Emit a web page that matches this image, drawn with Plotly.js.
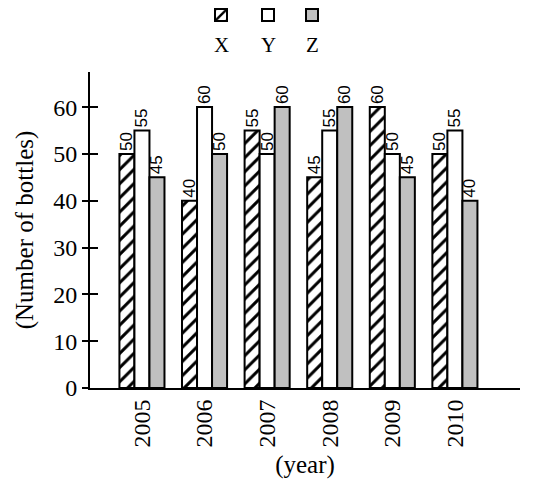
<!DOCTYPE html>
<html>
<head>
<meta charset="utf-8">
<script src="https://cdn.plot.ly/plotly-3.0.1.min.js"></script>
<style>html,body{margin:0;padding:0;background:#fff;}#chart{width:539px;height:484px;}</style>
</head>
<body>
<div id="chart"></div>
<script>
const years = [2005, 2006, 2007, 2008, 2009, 2010];
const seriesNames = ['X', 'Y', 'Z'];
const valuesX = [50, 40, 55, 45, 60, 50];
const valuesY = [55, 60, 50, 55, 50, 55];
const valuesZ = [45, 50, 60, 60, 45, 40];
const yTicks = [0, 10, 20, 30, 40, 50, 60];

const serif = 'Liberation Serif, Times New Roman, serif';
const sans = 'Liberation Sans, Arial, sans-serif';
const legendIds = ['legend', 'legend2', 'legend3'];

function barTrace(i, vals, marker) {
  return {
    type: 'bar', name: seriesNames[i], legend: legendIds[i], x: years, y: vals,
    text: vals.map(String), textposition: 'outside', textangle: -90,
    textfont: {family: sans, size: 17, color: '#000'},
    cliponaxis: false, constraintext: 'none',
    marker: marker, hoverinfo: 'x+y+name'
  };
}

const traces = [
  barTrace(0, valuesX, {color: '#fff', line: {color: '#000', width: 2},
    pattern: {shape: '/', fgcolor: '#000', bgcolor: '#fff', size: 10, solidity: 0.3, fillmode: 'replace'}}),
  barTrace(1, valuesY, {color: '#fff', line: {color: '#000', width: 2}}),
  barTrace(2, valuesZ, {color: '#c0c0c0', line: {color: '#000', width: 2}}),
  {type: 'scatter', x: [years[0]], y: [0], yaxis: 'y2', mode: 'markers', marker: {opacity: 0}, showlegend: false, hoverinfo: 'skip'}
];

const legendXs = [221, 268, 312];
const plotL = 90, plotW = 430, plotT = 72, plotH = 316;
const annotations = seriesNames.map((n, i) => ({
  text: n, xref: 'paper', yref: 'paper',
  x: (legendXs[i] - plotL) / plotW, y: 1 + (plotT - 45) / plotH,
  showarrow: false, font: {family: serif, size: 21, color: '#000'},
  xanchor: 'center', yanchor: 'middle'
}));

const layout = {
  width: 539, height: 484,
  margin: {l: plotL, r: 539 - plotL - plotW, t: plotT, b: 484 - plotT - plotH, autoexpand: false},
  paper_bgcolor: '#fff', plot_bgcolor: '#fff',
  barmode: 'group', bargap: 0.28, bargroupgap: 0,
  showlegend: true,
  xaxis: {
    range: [2004.17, 2011.04], tickvals: years, ticktext: years.map(String),
    tickangle: -90, ticks: '', showgrid: false, zeroline: false,
    showline: true, linecolor: '#000', linewidth: 2,
    tickfont: {family: serif, size: 24, color: '#000'},
    title: {text: '(year)', font: {family: serif, size: 25, color: '#000'}, standoff: 9}
  },
  yaxis: {
    range: [0, 67.5], tickvals: yTicks, ticks: 'outside', ticklen: 6, tickwidth: 2, tickcolor: '#000',
    showgrid: false, zeroline: false, showline: true, linecolor: '#000', linewidth: 2,
    tickfont: {family: serif, size: 24, color: '#000'}, ticklabelstandoff: 0,
    title: {text: '(Number of bottles)', font: {family: serif, size: 25, color: '#000'}, standoff: 12}
  },
  yaxis2: {
    range: [0, 67.5], tickvals: yTicks, overlaying: 'y', side: 'left', anchor: 'x',
    ticks: 'inside', ticklen: 8, tickwidth: 2, tickcolor: '#000', showticklabels: false,
    showgrid: false, zeroline: false, showline: false
  },
  annotations: annotations
};
legendIds.forEach((id, i) => {
  layout[id] = {x: (legendXs[i] - 20 - plotL) / plotW, xanchor: 'left',
    y: 1 + (plotT - 15) / plotH, yanchor: 'middle', itemwidth: 30,
    font: {color: 'rgba(0,0,0,0)', size: 12}, bgcolor: 'rgba(0,0,0,0)'};
});

Plotly.newPlot('chart', traces, layout, {displayModeBar: false, staticPlot: true});
</script>
</body>
</html>
